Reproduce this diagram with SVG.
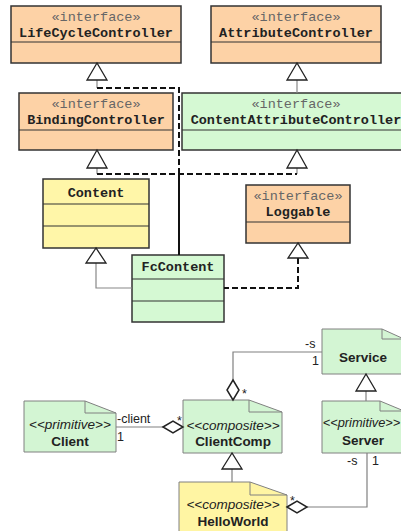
<svg xmlns="http://www.w3.org/2000/svg" width="401" height="531" viewBox="0 0 401 531">
  <style>
    .iface { fill: #fdd2a6; stroke: #333; stroke-width: 1.5; }
    .cls-g { fill: #d5f9d3; stroke: #333; stroke-width: 1.5; }
    .cls-y { fill: #fff6a8; stroke: #333; stroke-width: 1.5; }
    .div { stroke: #333; stroke-width: 1.2; }
    .st { font-family: "Liberation Mono", "Courier New", monospace; font-size: 13.5px; fill: #666; text-anchor: middle; }
    .nm { font-family: "Liberation Mono", "Courier New", monospace; font-size: 13.5px; font-weight: bold; fill: #222; text-anchor: middle; }
    .note-g { fill: #d3f5d3; stroke: #808080; stroke-width: 1; }
    .note-y { fill: #fff5a3; stroke: #808080; stroke-width: 1; }
    .fold { fill: none; stroke: #808080; stroke-width: 1; }
    .ster { font-family: "Liberation Sans", Arial, sans-serif; font-size: 13.5px; font-style: italic; fill: #222; text-anchor: middle; }
    .bn { font-family: "Liberation Sans", Arial, sans-serif; font-size: 13.5px; font-weight: bold; fill: #222; text-anchor: middle; }
    .lbl { font-family: "Liberation Sans", Arial, sans-serif; font-size: 12.5px; fill: #222; }
    .gen { fill: #fff; stroke: #222; stroke-width: 1.3; }
    .thin { fill: none; stroke: #888; stroke-width: 1.2; }
    .dash { fill: none; stroke: #111; stroke-width: 2; stroke-dasharray: 6 3; }
    .solid { fill: none; stroke: #111; stroke-width: 2; }
    .agg { fill: #fff; stroke: #222; stroke-width: 1.5; }
    .assoc { fill: none; stroke: #808080; stroke-width: 1.2; }
  </style>

  <!-- class / interface boxes -->
  <g id="LifeCycleController">
    <rect class="iface" x="11" y="6" width="170" height="57"/>
    <line class="div" x1="11" y1="42" x2="181" y2="42"/>
    <text class="st" x="96" y="21">«interface»</text>
    <text class="nm" x="96" y="37">LifeCycleController</text>
  </g>
  <g id="AttributeController">
    <rect class="iface" x="211" y="6" width="170" height="57"/>
    <line class="div" x1="211" y1="42" x2="381" y2="42"/>
    <text class="st" x="296" y="21">«interface»</text>
    <text class="nm" x="296" y="37">AttributeController</text>
  </g>
  <g id="BindingController">
    <rect class="iface" x="19" y="93" width="154" height="57"/>
    <line class="div" x1="19" y1="130" x2="173" y2="130"/>
    <text class="st" x="96" y="108">«interface»</text>
    <text class="nm" x="96" y="124">BindingController</text>
  </g>
  <g id="ContentAttributeController">
    <rect class="cls-g" x="182" y="93" width="228" height="57"/>
    <line class="div" x1="182" y1="130" x2="410" y2="130"/>
    <text class="st" x="296" y="108">«interface»</text>
    <text class="nm" x="296" y="124">ContentAttributeController</text>
  </g>
  <g id="Content">
    <rect class="cls-y" x="43" y="179" width="106" height="69"/>
    <line class="div" x1="43" y1="204" x2="149" y2="204"/>
    <line class="div" x1="43" y1="226" x2="149" y2="226"/>
    <text class="nm" x="96" y="197">Content</text>
  </g>
  <g id="Loggable">
    <rect class="iface" x="246" y="185" width="104" height="58"/>
    <line class="div" x1="246" y1="222" x2="350" y2="222"/>
    <text class="st" x="298" y="200">«interface»</text>
    <text class="nm" x="298" y="216">Loggable</text>
  </g>
  <g id="FcContent">
    <rect class="cls-g" x="132" y="255" width="92" height="67"/>
    <line class="div" x1="132" y1="279" x2="224" y2="279"/>
    <line class="div" x1="132" y1="301" x2="224" y2="301"/>
    <text class="nm" x="178" y="271">FcContent</text>
  </g>

  <!-- component notes -->
  <g id="Service">
    <path class="note-g" d="M322,329 H382 L404,339 V374 H322 Z"/>
    <path class="fold" d="M382,329 V339 H404"/>
    <text class="bn" x="363" y="362">Service</text>
  </g>
  <g id="Server">
    <path class="note-g" d="M322,401 H380 L404,411 V453 H322 Z"/>
    <path class="fold" d="M380,401 V411 H404"/>
    <text class="ster" x="361.5" y="427" style="font-size:12.8px">&lt;&lt;primitive&gt;&gt;</text>
    <text class="bn" x="363" y="445">Server</text>
  </g>
  <g id="Client">
    <path class="note-g" d="M24,401 H85 L116,413 V452 H24 Z"/>
    <path class="fold" d="M85,401 V413 H116"/>
    <text class="ster" x="70" y="429">&lt;&lt;primitive&gt;&gt;</text>
    <text class="bn" x="70" y="446">Client</text>
  </g>
  <g id="ClientComp">
    <path class="note-g" d="M183,400 H249 L282,412 V453 H183 Z"/>
    <path class="fold" d="M249,400 V412 H282"/>
    <text class="ster" x="233" y="430">&lt;&lt;composite&gt;&gt;</text>
    <text class="bn" x="233" y="446">ClientComp</text>
  </g>
  <g id="HelloWorld">
    <path class="note-y" d="M179,482 H250 L287,495 V540 H179 Z"/>
    <path class="fold" d="M250,482 V495 H287"/>
    <text class="ster" x="233" y="509">&lt;&lt;composite&gt;&gt;</text>
    <text class="bn" x="233" y="526">HelloWorld</text>
  </g>

  <!-- connectors -->
  <g id="connectors">
    <!-- generalization / realization lines in the interface diagram -->
    <line class="thin" x1="297" y1="80" x2="297" y2="93"/>
    <line class="thin" x1="97" y1="80" x2="97" y2="88"/>
    <line class="thin" x1="97" y1="168" x2="97" y2="174"/>
    <line class="thin" x1="297" y1="168" x2="297" y2="174"/>
    <path class="dash" d="M97,88 H179 V174"/>
    <path class="dash" d="M97,174 H297"/>
    <line class="solid" x1="179" y1="174" x2="179" y2="255"/>
    <path class="thin" d="M96,263 V288 H132"/>
    <path class="dash" d="M298,258 V288 H224"/>
    <polygon class="gen" points="297,63 287,80 307,80"/>
    <polygon class="gen" points="97,63 87,80 107,80"/>
    <polygon class="gen" points="97,150 87,168 107,168"/>
    <polygon class="gen" points="297,150 287,168 307,168"/>
    <polygon class="gen" points="96,248 86,263 106,263"/>
    <polygon class="gen" points="298,243 288,258 308,258"/>

    <!-- component diagram -->
    <path class="assoc" d="M322,352 H233 V380"/>
    <polygon class="agg" points="233,380 239,390 233,400 227,390"/>
    <line class="assoc" x1="116" y1="427" x2="163" y2="427"/>
    <polygon class="agg" points="163,427 173,421 183,427 173,433"/>
    <line class="assoc" x1="366" y1="391" x2="366" y2="401"/>
    <polygon class="gen" points="366,374 356,391 376,391"/>
    <line class="assoc" x1="232" y1="469" x2="232" y2="482"/>
    <polygon class="gen" points="232,453 222,469 242,469"/>
    <path class="assoc" d="M367,453 V507 H307"/>
    <polygon class="agg" points="287,507 297,501 307,507 297,513"/>

    <text class="lbl" x="305" y="348">-s</text>
    <text class="lbl" x="312" y="365">1</text>
    <text class="lbl" x="242" y="398">*</text>
    <text class="lbl" x="117" y="423">-client</text>
    <text class="lbl" x="117" y="441">1</text>
    <text class="lbl" x="177" y="425">*</text>
    <text class="lbl" x="347" y="465">-s</text>
    <text class="lbl" x="372" y="465">1</text>
    <text class="lbl" x="290" y="505">*</text>
  </g>
</svg>
